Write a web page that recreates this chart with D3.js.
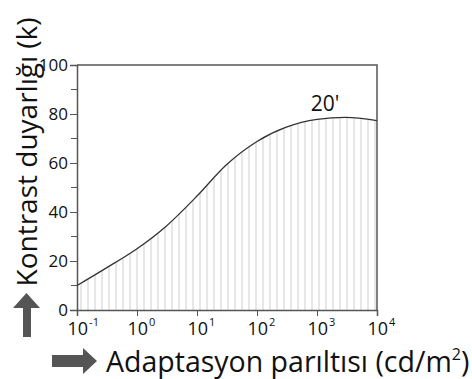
<!DOCTYPE html>
<html>
<head>
<meta charset="utf-8">
<script src="https://cdn.jsdelivr.net/npm/d3@7"></script>
<style>
  body { margin: 0; background: #fff; }
  text { font-family: "Open Sans", sans-serif; fill: #111; }
</style>
</head>
<body>
<div id="chart"></div>
<script>
// luminance (cd/m2) and contrast sensitivity
const luminance = [0.1, 0.3, 1, 3, 10, 30, 100, 300, 1000, 3000, 10000];
const sensitivity = [10, 17, 25, 34, 46.5, 59, 68.8, 74.5, 77.8, 78.6, 77.3];
const xTicks = [0.1, 1, 10, 100, 1000, 10000];
const xExponents = ["-1", "0", "1", "2", "3", "4"];
const yTicks = [0, 20, 40, 60, 80, 100];
const yMinorTicks = [10, 30, 50, 70, 90];
const curveLabel = "20'";

const W = 472, H = 379;
const margin = { top: 65, right: 95, bottom: 69, left: 77 };
const width = W - margin.left - margin.right;
const height = H - margin.top - margin.bottom;

const data = luminance.map((l, i) => ({ l: l, v: sensitivity[i] }));

const svg = d3.select("#chart").append("svg")
  .attr("width", W)
  .attr("height", H);

const g = svg.append("g")
  .attr("transform", "translate(" + margin.left + "," + margin.top + ")");

const x = d3.scaleLog().domain([0.1, 10000]).range([0, width]);
const y = d3.scaleLinear().domain([0, 100]).range([height, 0]);

const line = d3.line()
  .x(d => x(d.l))
  .y(d => y(d.v))
  .curve(d3.curveMonotoneX);

const area = d3.area()
  .x(d => x(d.l))
  .y0(height)
  .y1(d => y(d.v))
  .curve(d3.curveMonotoneX);

// hatched area under the curve
svg.append("defs").append("clipPath")
  .attr("id", "under")
  .append("path")
  .datum(data)
  .attr("d", area);

g.append("g")
  .attr("clip-path", "url(#under)")
  .selectAll("line")
  .data(d3.range(0, width, 7))
  .join("line")
  .attr("x1", d => d + 4)
  .attr("x2", d => d + 4)
  .attr("y1", 0)
  .attr("y2", height)
  .attr("stroke", "#cfcfcf")
  .attr("stroke-width", 1);

// frame (top + right)
g.append("path")
  .attr("d", "M0,0H" + width + "V" + height)
  .attr("fill", "none")
  .attr("stroke", "#555")
  .attr("stroke-width", 1.5);

// y axis
const yAxis = g.append("g")
  .call(d3.axisLeft(y).tickValues(yTicks).tickSize(7).tickPadding(2).tickFormat(d3.format("d")));
yAxis.select(".domain").attr("stroke", "#555").attr("stroke-width", 1.5);
yAxis.selectAll(".tick line").attr("stroke", "#555");
yAxis.selectAll(".tick text")
  .style("font-family", "'Open Sans', sans-serif")
  .style("font-size", "17px")
  .attr("fill", "#111");

g.append("g")
  .selectAll("line")
  .data(yMinorTicks)
  .join("line")
  .attr("x1", -6)
  .attr("x2", 0)
  .attr("y1", d => y(d))
  .attr("y2", d => y(d))
  .attr("stroke", "#555");

// x axis
const xAxis = g.append("g")
  .attr("transform", "translate(0," + height + ")")
  .call(d3.axisBottom(x).tickValues(xTicks).tickSize(6).tickFormat(""));
xAxis.select(".domain").attr("stroke", "#555").attr("stroke-width", 1.5);
xAxis.selectAll(".tick line").attr("stroke", "#555");

const xLab = g.append("g")
  .selectAll("text")
  .data(xTicks)
  .join("text")
  .attr("x", d => x(d) - 9.5)
  .attr("y", height + 25)
  .style("font-size", "18px");
xLab.append("tspan").text("10");
xLab.append("tspan")
  .attr("dx", 1)
  .attr("dy", -9)
  .style("font-size", "11px")
  .text((d, i) => xExponents[i]);

// curve
g.append("path")
  .datum(data)
  .attr("fill", "none")
  .attr("stroke", "#333")
  .attr("stroke-width", 1.3)
  .attr("d", line);

g.append("text")
  .attr("x", x(1000) + 8)
  .attr("y", y(80) - 3)
  .attr("text-anchor", "middle")
  .style("font-size", "21px")
  .text(curveLabel);

// axis titles with arrows
svg.append("text")
  .attr("transform", "translate(37,152) rotate(-90)")
  .attr("text-anchor", "middle")
  .style("font-size", "28px")
  .text("Kontrast duyarlığı (k)");

svg.append("path")
  .attr("d", "M23,337V308H13L26.5,293L40,308H31V337Z")
  .attr("fill", "#555");

svg.append("path")
  .attr("d", "M52,355H83V348L97,361L83,374V367H52Z")
  .attr("fill", "#555");

const xt = svg.append("text")
  .attr("x", 106)
  .attr("y", 372)
  .style("font-size", "28.5px");
xt.append("tspan").text("Adaptasyon parıltısı (cd/m");
xt.append("tspan").attr("dy", -12).style("font-size", "16px").text("2");
xt.append("tspan").attr("dy", 12).text(")");
</script>
</body>
</html>
